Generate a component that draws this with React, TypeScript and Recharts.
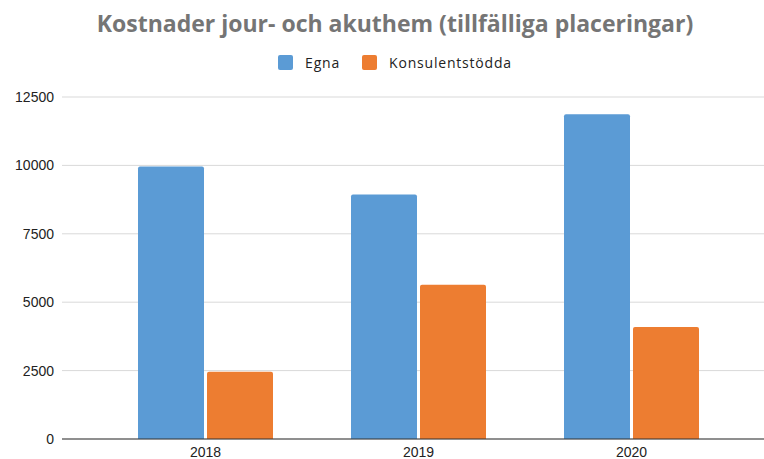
import React from 'react'
import { BarChart, Bar, XAxis, YAxis, CartesianGrid, Legend } from 'recharts'

const years = ['2018', '2019', '2020']
const egna = [9960, 8940, 11870]
const konsulentstodda = [2460, 5640, 4090]
const yTicks = [0, 2500, 5000, 7500, 10000, 12500]

const data = years.map((year, i) => ({ year, egna: egna[i], konsulentstodda: konsulentstodda[i] }))

const BLUE = '#5b9bd5'
const ORANGE = '#ed7d31'

function LegendContent() {
  const items = [
    { label: 'Egna', color: BLUE },
    { label: 'Konsulentstödda', color: ORANGE },
  ]
  return (
    <div style={{ display: 'flex', justifyContent: 'center', gap: 22, paddingLeft: 26, fontFamily: 'Open Sans', fontSize: 14, color: '#222', letterSpacing: 0.8 }}>
      {items.map(it => (
        <div key={it.label} style={{ display: 'flex', alignItems: 'center' }}>
          <span style={{ width: 15, height: 15, background: it.color, borderRadius: 2, marginRight: 12, display: 'inline-block' }} />
          <span>{it.label}</span>
        </div>
      ))}
    </div>
  )
}

export default function App() {
  return (
    <div style={{ position: 'absolute', left: 0, top: 0, width: 764, height: 459, background: '#fff' }}>
      <div style={{ position: 'absolute', top: 7, left: 26, width: 738, textAlign: 'center', fontFamily: 'Open Sans', fontWeight: 700, fontSize: 23, color: '#757575' }}>
        Kostnader jour- och akuthem (tillfälliga placeringar)
      </div>
      <BarChart width={764} height={459} data={data} margin={{ top: 97, right: 0, bottom: 4, left: 0 }} barGap={3} barCategoryGap={39}>
        <CartesianGrid vertical={false} stroke="#d9d9d9" />
        <XAxis dataKey="year" height={16} axisLine={{ stroke: '#333' }} tickLine={false} padding={{ left: 37, right: 26 }} tick={{ fontSize: 14, fill: '#222', fontFamily: 'Liberation Sans' }} />
        <YAxis width={62} domain={[0, 12500]} ticks={yTicks} axisLine={false} tickLine={false} tick={{ fontSize: 14, fill: '#222', fontFamily: 'Liberation Sans' }} />
        <Legend layout="horizontal" verticalAlign="middle" align="center" wrapperStyle={{ top: 53, left: 0, width: 764 }} content={<LegendContent />} />
        <Bar dataKey="egna" name="Egna" fill={BLUE} radius={[2, 2, 0, 0]} isAnimationActive={false} />
        <Bar dataKey="konsulentstodda" name="Konsulentstödda" fill={ORANGE} radius={[2, 2, 0, 0]} isAnimationActive={false} />
      </BarChart>
    </div>
  )
}
